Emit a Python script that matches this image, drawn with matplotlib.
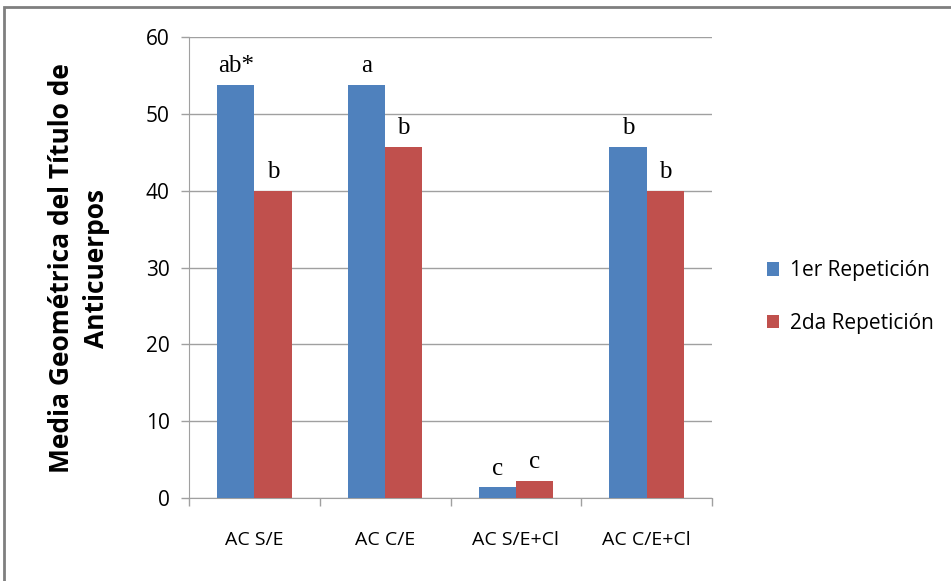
import numpy as np
import matplotlib.pyplot as plt
from matplotlib.patches import Rectangle

grupos = ["AC S/E", "AC C/E", "AC S/E+Cl", "AC C/E+Cl"]
rep1 = [53.8, 53.8, 1.4, 45.7]
rep2 = [40.0, 45.7, 2.2, 40.0]
letras1 = ["ab*", "a", "c", "b"]
letras2 = ["b", "b", "c", "b"]

azul = "#4F81BD"
rojo = "#C0504D"
sans = ["Open Sans", "DejaVu Sans"]

fig = plt.figure(figsize=(9.51, 5.81), dpi=100)
ax = fig.add_axes([189/951, 1 - 498/581, (712-189)/951, (498-37)/581])

x = np.arange(len(grupos))
w = 0.285
b1 = ax.bar(x - w/2, rep1, w, color=azul, label="1er Repetición", zorder=3)
b2 = ax.bar(x + w/2, rep2, w, color=rojo, label="2da Repetición", zorder=3)

for bars, letras in ((b1, letras1), (b2, letras2)):
    for r, t in zip(bars, letras):
        ax.text(r.get_x() + r.get_width()/2, r.get_height() + 1.0, t,
                ha="center", va="bottom", fontsize=18, family="Liberation Serif")

ax.set_xlim(-0.5, 3.5)
ax.set_ylim(0, 60)
ax.set_yticks(range(0, 61, 10))
ax.set_xticks(np.arange(-0.5, 4, 1), minor=True)
ax.set_xticks(x)
ax.set_xticklabels(grupos, family=sans, fontsize=14)
ax.tick_params(axis="x", which="major", length=0, pad=24)
ax.tick_params(axis="x", which="minor", length=6, color="#a0a0a0", width=1)
ax.tick_params(axis="y", length=6, color="#a0a0a0", width=1, labelsize=15, pad=8)
for lab in ax.get_yticklabels():
    lab.set_family(sans)
ax.grid(axis="y", color="#a0a0a0", linewidth=1, zorder=0)
for s in ("top", "right"):
    ax.spines[s].set_visible(False)
ax.spines["left"].set_color("#a0a0a0")
ax.spines["bottom"].set_color("#a0a0a0")

fig.text(79/951, 1 - 268/581, "Media Geométrica del Título de\nAnticuerpos",
         rotation=90, ha="center", va="center", fontsize=19, fontweight="bold",
         family=sans, linespacing=1.35)

fig.legend(handles=[b1, b2], loc="center left", bbox_to_anchor=(748/951, 1 - 297/581),
           frameon=False, prop={"family": sans, "size": 15}, handlelength=0.6,
           handleheight=0.6, labelspacing=1.5, handletextpad=0.5)

# marco exterior gris
fig.add_artist(Rectangle((4/951, -0.1), 1.2, 1 - 7/581 + 0.1, transform=fig.transFigure,
                         fill=False, edgecolor="#7f7f7f", linewidth=2))

fig.savefig("out.png", dpi=100)
